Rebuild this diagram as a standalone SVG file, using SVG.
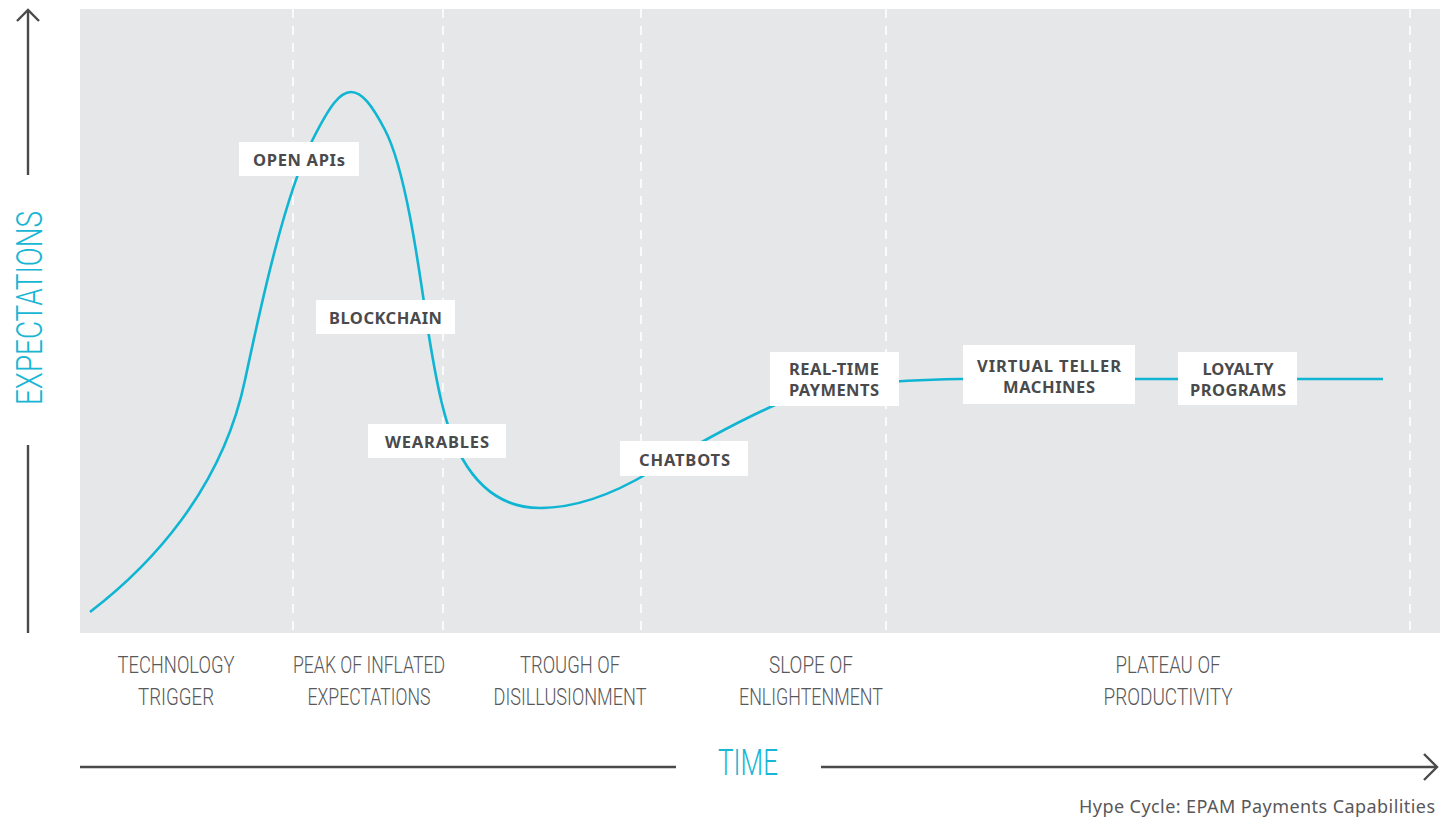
<svg xmlns="http://www.w3.org/2000/svg" width="1448" height="820" viewBox="0 0 1448 820">
<style>
.axis{stroke:#4a4a4c;stroke-width:2.4;fill:none}
.grid{stroke:#ffffff;stroke-width:1.6;stroke-dasharray:9 8;fill:none}
.curve{stroke:#0fb5d3;stroke-width:2.6;fill:none}
.box{fill:#ffffff}
.lbl{font-family:"Noto Sans","Open Sans",sans-serif;font-weight:700;font-size:16.5px;fill:#4a4a4c;text-anchor:middle}
.phase{font-family:Roboto,"Liberation Sans",sans-serif;font-weight:300;font-size:24px;fill:#58585a;text-anchor:middle}
.ttl{font-family:Roboto,"Liberation Sans",sans-serif;font-weight:300;font-size:37px;fill:#17b6d4;text-anchor:middle}
.cap{font-family:"Source Sans Pro","Noto Sans","Open Sans",sans-serif;font-size:18px;fill:#58585a;text-anchor:end}
</style>
<rect x="0" y="0" width="1448" height="820" fill="#ffffff"/>
<rect x="80" y="9" width="1360" height="624" fill="#e6e7e9"/>
<g id="gridlines">
<line class="grid" x1="293" y1="9" x2="293" y2="633"/>
<line class="grid" x1="443" y1="9" x2="443" y2="633"/>
<line class="grid" x1="641" y1="9" x2="641" y2="633"/>
<line class="grid" x1="886" y1="9" x2="886" y2="633"/>
<line class="grid" x1="1410" y1="9" x2="1410" y2="633"/>
</g>
<g id="axes">
<line class="axis" x1="28" y1="10" x2="28" y2="175"/>
<polyline class="axis" points="17,21 28,10 39,21"/>
<line class="axis" x1="28" y1="445" x2="28" y2="633"/>
<text class="ttl" transform="translate(42,308) rotate(-90)" textLength="194" lengthAdjust="spacingAndGlyphs">EXPECTATIONS</text>
<line class="axis" x1="80" y1="767" x2="676" y2="767"/>
<line class="axis" x1="821" y1="767" x2="1437" y2="767"/>
<polyline class="axis" points="1424,754 1437,767 1424,780"/>
<text class="ttl" x="748" y="775" textLength="60" lengthAdjust="spacingAndGlyphs">TIME</text>
</g>
<g id="connectors">
<path class="curve" d="M90,612 C150,566 222,490 245,380 C262,300 285,195 312,141 C330,105 340,92 351,92 C362,92 372,105 385,130 C405,168 418,260 428,330 C436,380 445,430 462,458 C480,490 505,508 540,508 C575,508 610,496 650,472 C690,448 730,425 775,405 C830,383 900,380 960,379 L1383,379"/>
</g>
<g id="node-open-apis"><rect class="box" x="239" y="142" width="120" height="34"/><text class="lbl" x="299" y="166" textLength="92">OPEN APIs</text></g>
<g id="node-blockchain"><rect class="box" x="316" y="300" width="139" height="34"/><text class="lbl" x="385.5" y="324" textLength="113">BLOCKCHAIN</text></g>
<g id="node-wearables"><rect class="box" x="368" y="424" width="138" height="34"/><text class="lbl" x="437" y="448" textLength="104">WEARABLES</text></g>
<g id="node-chatbots"><rect class="box" x="620" y="441" width="128" height="35"/><text class="lbl" x="684.5" y="466" textLength="91">CHATBOTS</text></g>
<g id="node-real-time"><rect class="box" x="770" y="352" width="129" height="54"/><text class="lbl" x="834" y="375" textLength="90">REAL-TIME</text><text class="lbl" x="834" y="396" textLength="90">PAYMENTS</text></g>
<g id="node-vtm"><rect class="box" x="963" y="345" width="172" height="59"/><text class="lbl" x="1049" y="372" textLength="144">VIRTUAL TELLER</text><text class="lbl" x="1049" y="393" textLength="92">MACHINES</text></g>
<g id="node-loyalty"><rect class="box" x="1178" y="352" width="119" height="53"/><text class="lbl" x="1238" y="375" textLength="71">LOYALTY</text><text class="lbl" x="1238" y="396" textLength="96">PROGRAMS</text></g>
<g id="phases">
<text class="phase" x="176" y="673" textLength="117" lengthAdjust="spacingAndGlyphs">TECHNOLOGY</text>
<text class="phase" x="176" y="705" textLength="76" lengthAdjust="spacingAndGlyphs">TRIGGER</text>
<text class="phase" x="369" y="673" textLength="152" lengthAdjust="spacingAndGlyphs">PEAK OF INFLATED</text>
<text class="phase" x="369" y="705" textLength="123" lengthAdjust="spacingAndGlyphs">EXPECTATIONS</text>
<text class="phase" x="570" y="673" textLength="100" lengthAdjust="spacingAndGlyphs">TROUGH OF</text>
<text class="phase" x="570" y="705" textLength="153" lengthAdjust="spacingAndGlyphs">DISILLUSIONMENT</text>
<text class="phase" x="811" y="673" textLength="84" lengthAdjust="spacingAndGlyphs">SLOPE OF</text>
<text class="phase" x="811" y="705" textLength="144" lengthAdjust="spacingAndGlyphs">ENLIGHTENMENT</text>
<text class="phase" x="1168" y="673" textLength="105" lengthAdjust="spacingAndGlyphs">PLATEAU OF</text>
<text class="phase" x="1168" y="705" textLength="129" lengthAdjust="spacingAndGlyphs">PRODUCTIVITY</text>
</g>
<text class="cap" x="1435" y="813" textLength="356">Hype Cycle: EPAM Payments Capabilities</text>
</svg>
